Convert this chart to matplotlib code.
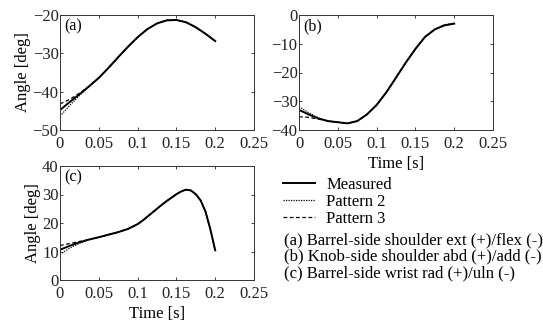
import matplotlib
matplotlib.use("Agg")
import matplotlib.pyplot as plt

plt.rcParams['font.family'] = 'serif'
plt.rcParams['font.serif'] = ['Liberation Serif', 'DejaVu Serif']
plt.rcParams['font.size'] = 12

# ---- data ----
t_ab = [0, 0.0125, 0.025, 0.0375, 0.05, 0.0625, 0.075, 0.0875, 0.1, 0.1125,
        0.125, 0.1375, 0.15, 0.1625, 0.175, 0.1875, 0.2]

a_meas = [-44.8, -42.7, -40.7, -38.6, -36.4, -33.8, -31.0, -28.3, -25.8, -23.7,
          -22.2, -21.4, -21.3, -21.9, -23.2, -24.9, -26.8]
a_p2 = [-46.4, -43.6, -41.0, -38.6, -36.4, -33.8, -31.0, -28.3, -25.8, -23.7,
        -22.2, -21.4, -21.3, -21.9, -23.2, -24.9, -26.8]
a_p3 = [-43.2, -42.0, -40.4, -38.6, -36.4, -33.8, -31.0, -28.3, -25.8, -23.7,
        -22.2, -21.4, -21.3, -21.9, -23.2, -24.9, -26.8]

b_meas = [-33.0, -34.6, -36.0, -36.9, -37.3, -37.7, -36.9, -34.6, -31.3, -26.9,
          -21.8, -16.6, -11.8, -7.6, -5.0, -3.6, -3.0]
b_p2 = [-31.9, -34.0, -35.8, -36.9, -37.3, -37.7, -36.9, -34.6, -31.3, -26.9,
        -21.8, -16.6, -11.8, -7.6, -5.0, -3.4, -2.9]
b_p3 = [-35.4, -35.6, -36.2, -36.9, -37.3, -37.7, -36.9, -34.6, -31.3, -26.9,
        -21.8, -16.6, -11.8, -7.6, -5.0, -3.6, -3.0]

t_c = [0, 0.0125, 0.025, 0.0375, 0.05, 0.0625, 0.075, 0.0875, 0.1, 0.10625,
       0.1125, 0.11875, 0.125, 0.13125, 0.1375, 0.14375, 0.15, 0.15625, 0.1625,
       0.16875, 0.175, 0.18125, 0.1875, 0.19375, 0.2]
c_meas = [10.6, 12.0, 13.2, 14.2, 15.0, 15.9, 16.8, 17.9, 19.6, 20.8,
          22.2, 23.6, 25.0, 26.4, 27.7, 28.9, 30.1, 31.1, 31.7,
          31.4, 30.1, 27.9, 24.0, 17.8, 10.4]
c_p2 = [9.0, 11.2, 12.9, 14.2, 15.0, 15.9, 16.8, 17.9, 19.6, 20.8,
        22.2, 23.6, 25.0, 26.4, 27.7, 28.9, 30.1, 31.1, 31.7,
        31.4, 30.1, 27.9, 24.0, 17.8, 10.4]
c_p3 = [12.1, 12.8, 13.5, 14.2, 15.0, 15.9, 16.8, 17.9, 19.6, 20.8,
        22.2, 23.6, 25.0, 26.4, 27.7, 28.9, 30.1, 31.1, 31.7,
        31.4, 30.1, 27.9, 24.0, 17.8, 10.4]

xticks = [0, 0.05, 0.1, 0.15, 0.2, 0.25]
xticklabels = ['0', '0.05', '0.1', '0.15', '0.2', '0.25']
legend_labels = ['Measured', 'Pattern 2', 'Pattern 3']
notes = ['(a) Barrel-side shoulder ext (+)/flex (-)',
         '(b) Knob-side shoulder abd (+)/add (-)',
         '(c) Barrel-side wrist rad (+)/uln (-)']

W, H = 543, 327
fig = plt.figure(figsize=(W / 100, H / 100), dpi=100)

def px_axes(l, t_, r, b):
    return fig.add_axes([l / W, 1 - b / H, (r - l) / W, (b - t_) / H])

def style(ax, ylim, yticks, tag, xlabel=False, ylabel=False):
    ax.set_xlim(0, 0.25)
    ax.set_ylim(*ylim)
    ax.set_xticks(xticks)
    ax.set_xticklabels(xticklabels)
    ax.set_yticks(yticks)
    ax.tick_params(direction='in', length=2.5, width=0.6, top=True, right=True,
                   labelsize=12, colors='#222222')
    ax.tick_params(axis='x', pad=4.5)
    ax.tick_params(axis='y', pad=1)
    for s in ax.spines.values():
        s.set_linewidth(0.7)
        s.set_color('#333333')
    ax.text(0.02, 0.97, tag, transform=ax.transAxes, ha='left', va='top', fontsize=11.5)
    if xlabel:
        ax.set_xlabel('Time [s]', labelpad=3)
    if ylabel:
        ax.set_ylabel('Angle [deg]', labelpad=1)

def draw(ax, t, meas, p2, p3):
    lm, = ax.plot(t, meas, color='black', lw=1.4, ls='-', solid_joinstyle='round')
    l2, = ax.plot(t, p2, color='black', lw=0.9, ls=(0, (1, 1)))
    l3, = ax.plot(t, p3, color='black', lw=0.9, ls=(0, (3, 2)))
    return lm, l2, l3

ax_a = px_axes(60, 15, 254, 130)
handles = draw(ax_a, t_ab, a_meas, a_p2, a_p3)
style(ax_a, (-50, -20), [-50, -40, -30, -20], '(a)', ylabel=True)

ax_b = px_axes(299, 15, 493, 130)
draw(ax_b, t_ab, b_meas, b_p2, b_p3)
style(ax_b, (-40, 0), [-40, -30, -20, -10, 0], '(b)', xlabel=True)

ax_c = px_axes(60, 166, 254, 280)
draw(ax_c, t_c, c_meas, c_p2, c_p3)
style(ax_c, (0, 40), [0, 10, 20, 30, 40], '(c)', xlabel=True, ylabel=True)

fig.legend(handles, legend_labels, loc='upper left',
           bbox_to_anchor=(283 / W, 1 - 177 / H), frameon=False,
           handlelength=1.9, handletextpad=0.7, labelspacing=0.05,
           borderpad=0, borderaxespad=0, fontsize=12)

for i, n in enumerate(notes):
    fig.text(284 / W, 1 - (240 + 16.6 * i) / H, n, ha='left', va='center', fontsize=12)

fig.savefig('out.png', dpi=100)
